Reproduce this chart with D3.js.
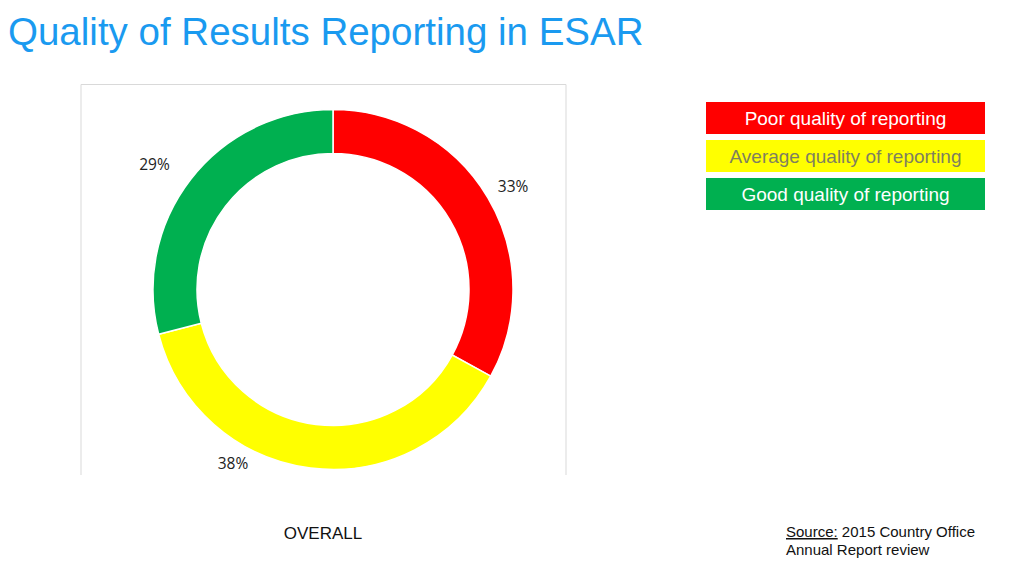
<!DOCTYPE html>
<html>
<head>
<meta charset="utf-8">
<script src="https://cdn.jsdelivr.net/npm/d3@7"></script>
<style>
  body { margin: 0; background: #fff; }
</style>
</head>
<body>
<script>
// Quality of Results Reporting in ESAR - donut

let categories = ["Poor quality of reporting", "Average quality of reporting", "Good quality of reporting"];
let shares = [33, 38, 29];
let colors = ["#ff0000", "#ffff00", "#00b050"];
let legendText = ["#ffffff", "#7f7f5f", "#ffffff"];

// where Excel put each label (angle in degrees from 12 o'clock, radius)
let labelSpots = [[60, 208], [210, 200], [305, 218]];

let svg = d3.select("body")
  .append("svg")
  .attr("width", 1024)
  .attr("height", 575);

// title
svg.append("text")
  .attr("x", 8)
  .attr("y", 45)
  .style("font-family", "Liberation Sans, Arial, sans-serif")
  .style("font-size", "38.5px")
  .style("fill", "#1a9af0")
  .text("Quality of Results Reporting in ESAR");

// chart frame (open at the bottom)
svg.append("path")
  .attr("d", "M81,475 V84.5 H566 V475")
  .style("fill", "none")
  .style("stroke", "#d9d9d9")
  .style("stroke-width", 1);

let cx = 333, cy = 289.5;
let g = svg.append("g").attr("transform", `translate(${cx},${cy})`);

let pie = d3.pie().sort(null).value(d => d);
let arc = d3.arc().innerRadius(136).outerRadius(180);

g.selectAll("path.slice")
  .data(pie(shares))
  .join("path")
  .attr("class", "slice")
  .attr("d", arc)
  .style("fill", (d, i) => colors[i])
  .style("stroke", "#fff")
  .style("stroke-width", 1.5);

g.selectAll("text.pct")
  .data(pie(shares))
  .join("text")
  .attr("class", "pct")
  .attr("x", (d, i) => labelSpots[i][1] * Math.sin(labelSpots[i][0] * Math.PI / 180))
  .attr("y", (d, i) => -labelSpots[i][1] * Math.cos(labelSpots[i][0] * Math.PI / 180))
  .attr("text-anchor", "middle")
  .attr("dominant-baseline", "central")
  .style("font-family", "Open Sans, DejaVu Sans, sans-serif")
  .style("font-size", "15.5px")
  .style("fill", "#222")
  .text(d => d.data + "%");

// legend boxes
let legY = d3.scaleBand().domain(categories).range([102, 210]).paddingInner(0.158);

let leg = svg.selectAll("g.leg")
  .data(categories)
  .join("g")
  .attr("class", "leg")
  .attr("transform", d => `translate(706,${legY(d)})`);

leg.append("rect")
  .attr("width", 279)
  .attr("height", legY.bandwidth())
  .style("fill", (d, i) => colors[i]);

leg.append("text")
  .attr("x", 139.5)
  .attr("y", legY.bandwidth() / 2 + 1)
  .attr("text-anchor", "middle")
  .attr("dominant-baseline", "central")
  .style("font-family", "Liberation Sans, Arial, sans-serif")
  .style("font-size", "19px")
  .style("fill", (d, i) => legendText[i])
  .text(d => d);

// footer
svg.append("text")
  .attr("x", 323)
  .attr("y", 539)
  .attr("text-anchor", "middle")
  .style("font-family", "Liberation Sans, Arial, sans-serif")
  .style("font-size", "17px")
  .style("fill", "#111")
  .text("OVERALL");

let src = svg.append("text")
  .style("font-family", "Liberation Sans, Arial, sans-serif")
  .style("font-size", "15px")
  .style("fill", "#111");
src.append("tspan").attr("x", 786).attr("y", 537)
  .style("text-decoration", "underline")
  .text("Source:");
src.append("tspan").text(" 2015 Country Office");
src.append("tspan").attr("x", 786).attr("y", 555).text("Annual Report review");
</script>
</body>
</html>
